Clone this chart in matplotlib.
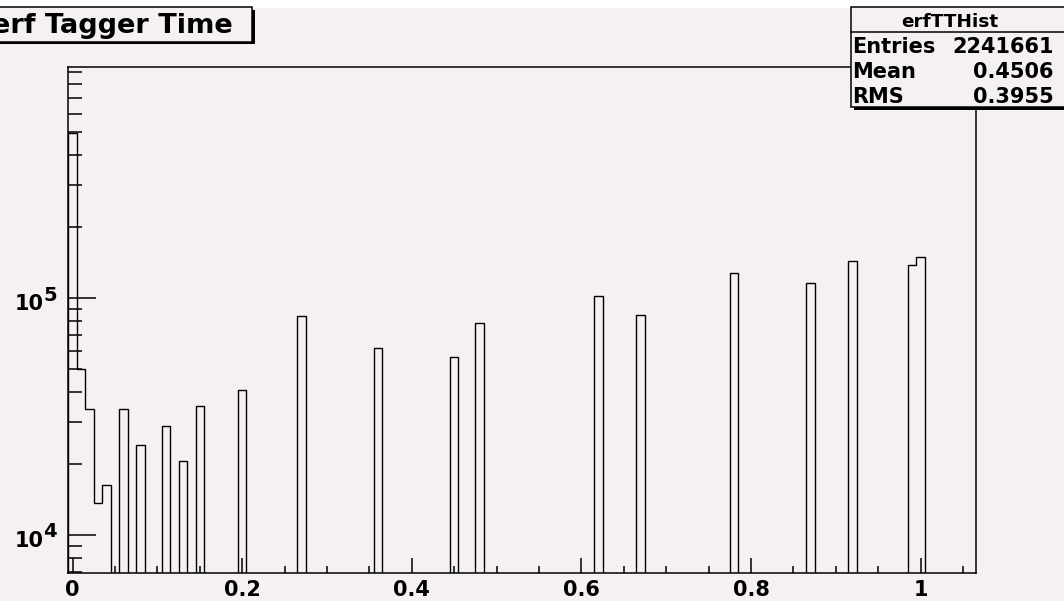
import numpy as np
import matplotlib
matplotlib.use("Agg")
import matplotlib.pyplot as plt
from matplotlib.patches import Rectangle
from matplotlib.ticker import MultipleLocator, LogLocator, NullFormatter, FixedLocator

# histogram contents (bin centre -> entries), bins of width 0.01
bin_centers = [0.00, 0.01, 0.02, 0.03, 0.04, 0.06, 0.08, 0.11, 0.13, 0.15, 0.20,
               0.27, 0.36, 0.45, 0.48, 0.62, 0.67, 0.78, 0.87, 0.92, 0.99, 1.00]
bin_counts = [498000, 50000, 34000, 13600, 16300, 34000, 24000, 28700, 20500, 35000, 40800,
              84000, 61400, 56500, 78700, 102000, 84800, 127000, 116000, 143000, 138000, 149000]

title_text = "erf Tagger Time"
stats_name = "erfTTHist"
stats_labels = ["Entries", "Mean", "RMS"]
stats_values = ["2241661", "0.4506", "0.3955"]
x_ticklabels = ["0", "0.2", "0.4", "0.6", "0.8", "1"]

BG = "#f4f0f4"
W, H = 1064, 601
plt.rcParams['font.family'] = ['DejaVu Sans']
plt.rcParams['font.weight'] = 'bold'

nbins = 107
edges = -0.005 + 0.01 * np.arange(nbins + 1)
counts = np.zeros(nbins)
for c, n in zip(bin_centers, bin_counts):
    counts[int(round(c / 0.01))] = n


def fx(px):
    return px / W


def fy(py):
    return 1 - py / H


fig = plt.figure(figsize=(W / 100, H / 100), dpi=100, facecolor=BG)
# thin white strip at the very top
fig.patches.append(Rectangle((0, fy(6.5)), 1, 1, transform=fig.transFigure, color="white", zorder=0))

x0, x1, y0, y1 = 68.3, 975.7, 67.0, 573.3
ax = fig.add_axes([fx(x0), fy(y1), fx(x1 - x0), (y1 - y0) / H])
ax.set_facecolor(BG)
ax.set_yscale("log")
ax.set_xlim(edges[0], edges[-1])
ax.set_ylim(6893, 9.43e5)

ax.stairs(np.where(counts > 0, counts, 1.0), edges, baseline=1.0, color="black", lw=1.0)

for s in ax.spines.values():
    s.set_linewidth(1.1)

ax.xaxis.set_major_locator(FixedLocator([0, 0.2, 0.4, 0.6, 0.8, 1.0]))
ax.set_xticklabels(x_ticklabels)
ax.xaxis.set_minor_locator(MultipleLocator(0.05))
ax.tick_params(axis="x", which="major", direction="in", length=10.8, width=1.1, labelsize=15, pad=5)
ax.tick_params(axis="x", which="minor", direction="in", length=5, width=1.1)

ax.yaxis.set_major_locator(FixedLocator([1e4, 1e5]))
ax.yaxis.set_minor_locator(LogLocator(base=10, subs=range(2, 10)))
ax.yaxis.set_major_formatter(NullFormatter())
ax.yaxis.set_minor_formatter(NullFormatter())
ax.tick_params(axis="y", which="major", direction="in", length=20, width=1.1)
ax.tick_params(axis="y", which="minor", direction="in", length=10, width=1.1)

ytr = ax.get_yaxis_transform()
for v, e, dy in [(1e5, "5", 2), (1e4, "4", 3)]:
    ax.annotate("10", xy=(0, v), xycoords=ytr, xytext=(-25, -6), textcoords="offset pixels",
                ha="right", va="center", fontsize=15, fontweight="bold")
    ax.annotate(e, xy=(0, v), xycoords=ytr, xytext=(-25, dy), textcoords="offset pixels",
                ha="left", va="center", fontsize=14, fontweight="bold")

# title pave with shadow
fig.patches.append(Rectangle((fx(-20 + 3), fy(44)), fx(272), (44 - 10) / H, transform=fig.transFigure,
                             facecolor="black", edgecolor="black", lw=0, zorder=3))
fig.patches.append(Rectangle((fx(-20), fy(41.5)), fx(272.3), (41.5 - 6.7) / H, transform=fig.transFigure,
                             facecolor=BG, edgecolor="black", lw=1.1, zorder=4))
fig.text(fx(233), fy(33.3), title_text, ha="right", va="baseline", fontsize=19.5,
         fontweight="bold", zorder=5)

# stats box
fig.patches.append(Rectangle((fx(851 + 3), fy(110)), fx(230), (110 - 10) / H, transform=fig.transFigure,
                             facecolor="black", edgecolor="black", lw=0, zorder=3))
fig.patches.append(Rectangle((fx(851), fy(107)), fx(230), (107 - 6.7) / H, transform=fig.transFigure,
                             facecolor=BG, edgecolor="black", lw=1.1, zorder=4))
fig.lines.append(plt.Line2D([fx(851), 1], [fy(31.7), fy(31.7)], transform=fig.transFigure,
                            color="black", lw=1.1, zorder=5))
fig.text(fx(950), fy(26.7), stats_name, ha="center", va="baseline", fontsize=13.3,
         fontweight="bold", zorder=5)
for i, (lab, val) in enumerate(zip(stats_labels, stats_values)):
    yb = 52.7 + 25 * i
    fig.text(fx(852), fy(yb), lab, ha="left", va="baseline", fontsize=15, fontweight="bold", zorder=5)
    fig.text(fx(1054), fy(yb), val, ha="right", va="baseline", fontsize=15, fontweight="bold", zorder=5)

fig.savefig("out.png", dpi=100, facecolor=BG)
